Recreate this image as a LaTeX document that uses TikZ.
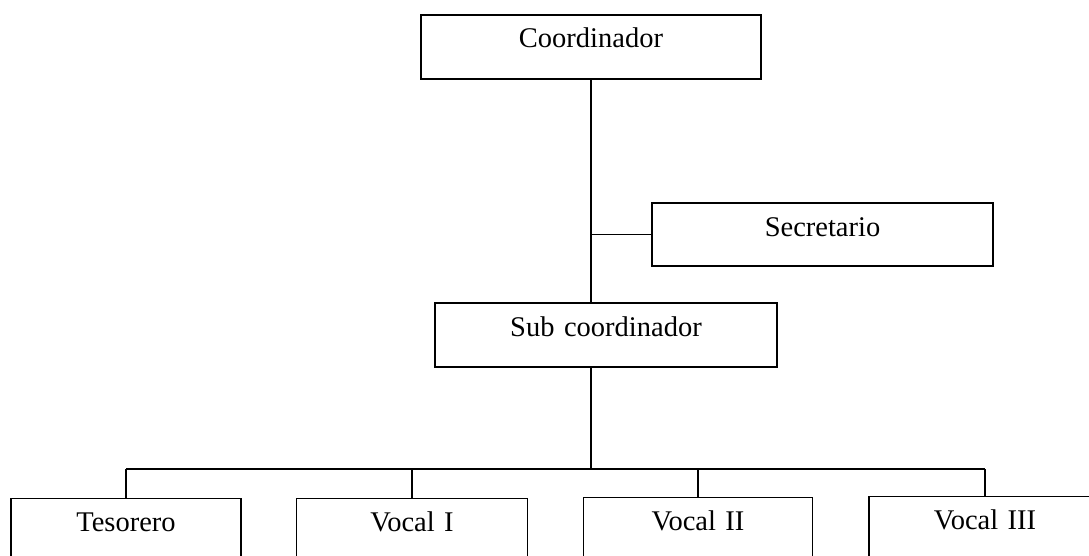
\documentclass[tikz,border=0pt]{standalone}
\usepackage{fontspec}
\setmainfont{Liberation Serif}
\begin{document}
\begin{tikzpicture}[x=1pt,y=-1pt,
  box/.style={draw=black, line width=1.4pt, inner sep=0pt, align=center,
    font=\fontsize{28.5}{34}\selectfont, text height=33pt},
  conn/.style={draw=black, line width=1.4pt}]
\useasboundingbox (0,0) rectangle (1089,556);
\clip (0,0) rectangle (1089,556);
% boxes
\node[box, text width=340pt, text depth=31pt] (coord) at (591,47) {Coordinador};
\node[box, text width=341pt, text depth=30pt] (sec) at (822.5,234.5) {Secretario};
\node[box, text width=342pt, text depth=31pt] (sub) at (606,335) {Sub coordinador};
\node[box, text width=230pt, text depth=70pt, anchor=north] (tes) at (126,498) {Tesorero};
\node[box, text width=231pt, text depth=70pt, anchor=north] (v1) at (412,497.5) {Vocal I};
\node[box, text width=229pt, text depth=70pt, anchor=north] (v2) at (698,497) {Vocal II};
\node[box, text width=232pt, text depth=70pt, anchor=north] (v3) at (985,496) {Vocal III};
\coordinate (bus) at (591,469);
% connectors
\draw[conn] (coord.south) -- (coord.south |- sub.north);
\draw[conn] (sec.west) -- (sec.west -| coord.south);
\draw[conn] (coord.south |- sub.south) -- (bus);
\draw[conn] (tes.north |- bus) -- (v3.north |- bus);
\draw[conn] (tes.north) -- (tes.north |- bus);
\draw[conn] (v1.north) -- (v1.north |- bus);
\draw[conn] (v2.north) -- (v2.north |- bus);
\draw[conn] (v3.north) -- (v3.north |- bus);
\end{tikzpicture}
\end{document}
